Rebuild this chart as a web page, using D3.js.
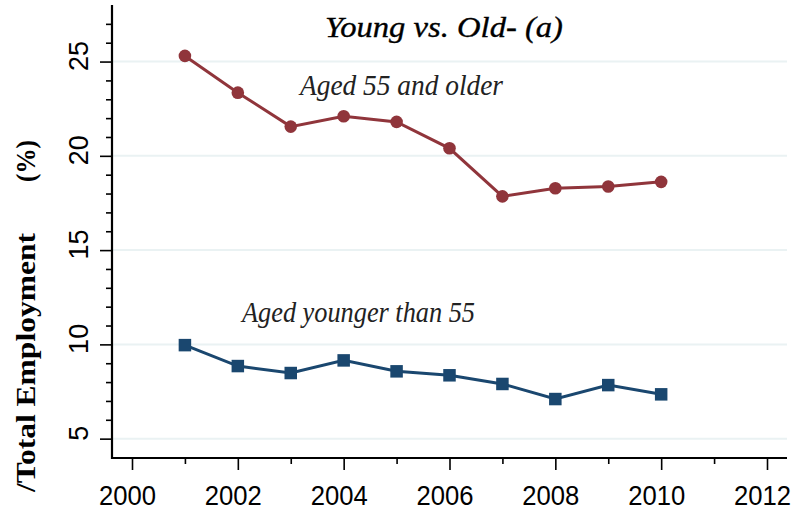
<!DOCTYPE html>
<html>
<head>
<meta charset="utf-8">
<script src="https://cdn.jsdelivr.net/npm/d3@7"></script>
<style>
  html, body { margin: 0; padding: 0; background: #ffffff; }
  svg { display: block; }
</style>
</head>
<body>
<svg id="chart" width="796" height="512"></svg>
<script>
// Share of employment by age group, 2001-2010 (%)
const years = [2001, 2002, 2003, 2004, 2005, 2006, 2007, 2008, 2009, 2010];
const agedOlder = [25.3, 23.35, 21.55, 22.1, 21.8, 20.4, 17.85, 18.28, 18.37, 18.62];
const agedYounger = [9.96, 8.85, 8.48, 9.15, 8.57, 8.36, 7.9, 7.1, 7.84, 7.35];

const xMajorTicks = [2000, 2002, 2004, 2006, 2008, 2010, 2012];
const xMinorTicks = [2001, 2003, 2005, 2007, 2009, 2011];
const yMajorTicks = [5, 10, 15, 20, 25];
const yMinorTicks = [6, 7, 8, 9, 11, 12, 13, 14, 16, 17, 18, 19, 21, 22, 23, 24, 26, 27];

const titleText = "Young vs. Old- (a)";
const yTitleMain = "/Total Employment";
const yTitleUnit = "(%)";
const labelOlder = "Aged 55 and older";
const labelYounger = "Aged younger than 55";

const colOlder = "#90353B";
const colYounger = "#1A476F";
const gridCol = "#EAF2F3";

const svg = d3.select("#chart");

const plotLeft = 112, plotRight = 787, plotTop = 5, plotBottom = 458;

const x = d3.scaleLinear().domain([2000, 2012]).range([132, 767]);
const y = d3.scaleLinear().domain([4, 28]).range([457.5, 5]);

// gridlines
svg.append("g").selectAll("line").data(yMajorTicks).join("line")
  .attr("x1", plotLeft).attr("x2", plotRight)
  .attr("y1", d => y(d)).attr("y2", d => y(d))
  .attr("stroke", gridCol).attr("stroke-width", 2);

// y axis: major ticks with labels, minor ticks without
const yAxisG = svg.append("g").attr("transform", `translate(${plotLeft},0)`);
yAxisG.call(d3.axisLeft(y).tickValues(yMajorTicks).tickSize(12).tickSizeOuter(0).tickFormat(d3.format("d")));
yAxisG.select(".domain").remove();
yAxisG.selectAll(".tick line").attr("stroke", "#000").attr("stroke-width", 1.6);
yAxisG.selectAll(".tick text")
  .attr("x", null).attr("dy", null)
  .attr("transform", "translate(-24,-6) rotate(-90)")
  .attr("text-anchor", "middle")
  .attr("font-family", "Liberation Sans, Arial, sans-serif")
  .attr("font-size", 27)
  .attr("fill", "#000");

const yMinorG = svg.append("g").attr("transform", `translate(${plotLeft},0)`);
yMinorG.call(d3.axisLeft(y).tickValues(yMinorTicks).tickSize(6).tickFormat(""));
yMinorG.select(".domain").remove();
yMinorG.selectAll(".tick line").attr("stroke", "#000").attr("stroke-width", 1.6);

// x axis
const xAxisG = svg.append("g").attr("transform", `translate(0,${plotBottom})`);
xAxisG.call(d3.axisBottom(x).tickValues(xMajorTicks).tickSize(12).tickFormat(d3.format("d")));
xAxisG.select(".domain").remove();
xAxisG.selectAll(".tick line").attr("stroke", "#000").attr("stroke-width", 1.6);
xAxisG.selectAll(".tick text")
  .attr("x", -5).attr("y", 47).attr("dy", null)
  .attr("font-family", "Liberation Sans, Arial, sans-serif")
  .attr("font-size", 27)
  .attr("textLength", 57).attr("lengthAdjust", "spacingAndGlyphs")
  .attr("fill", "#000");

const xMinorG = svg.append("g").attr("transform", `translate(0,${plotBottom})`);
xMinorG.call(d3.axisBottom(x).tickValues(xMinorTicks).tickSize(6).tickFormat(""));
xMinorG.select(".domain").remove();
xMinorG.selectAll(".tick line").attr("stroke", "#000").attr("stroke-width", 1.6);

// axis lines
svg.append("line").attr("x1", plotLeft).attr("x2", plotLeft)
  .attr("y1", plotTop).attr("y2", plotBottom + 1)
  .attr("stroke", "#000").attr("stroke-width", 2.2);
svg.append("line").attr("x1", plotLeft - 1).attr("x2", plotRight)
  .attr("y1", plotBottom).attr("y2", plotBottom)
  .attr("stroke", "#000").attr("stroke-width", 2.2);

// series lines
const line = d3.line().x(d => x(d[0])).y(d => y(d[1]));
const olderPts = years.map((yr, i) => [yr, agedOlder[i]]);
const youngerPts = years.map((yr, i) => [yr, agedYounger[i]]);

svg.append("path").datum(olderPts).attr("d", line)
  .attr("fill", "none").attr("stroke", colOlder).attr("stroke-width", 3);
svg.append("path").datum(youngerPts).attr("d", line)
  .attr("fill", "none").attr("stroke", colYounger).attr("stroke-width", 3);

// markers
svg.append("g").selectAll("circle").data(olderPts).join("circle")
  .attr("cx", d => x(d[0])).attr("cy", d => y(d[1])).attr("r", 6.3)
  .attr("fill", colOlder);

const sq = 12.5;
svg.append("g").selectAll("rect").data(youngerPts).join("rect")
  .attr("x", d => x(d[0]) - sq / 2).attr("y", d => y(d[1]) - sq / 2)
  .attr("width", sq).attr("height", sq)
  .attr("fill", colYounger);

// title
svg.append("text")
  .attr("x", 325).attr("y", 37)
  .attr("font-family", "Liberation Serif, Times New Roman, serif")
  .attr("font-style", "italic")
  .attr("font-size", 30)
  .attr("fill", "#000")
  .attr("stroke", "#000").attr("stroke-width", 0.35)
  .attr("textLength", 238).attr("lengthAdjust", "spacingAndGlyphs")
  .text(titleText);

// series labels
svg.append("text")
  .attr("x", 300).attr("y", 95)
  .attr("font-family", "Liberation Serif, Times New Roman, serif")
  .attr("font-style", "italic")
  .attr("font-size", 29)
  .attr("fill", "#222")
  .attr("textLength", 203).attr("lengthAdjust", "spacingAndGlyphs")
  .text(labelOlder);

svg.append("text")
  .attr("x", 242).attr("y", 322)
  .attr("font-family", "Liberation Serif, Times New Roman, serif")
  .attr("font-style", "italic")
  .attr("font-size", 29)
  .attr("fill", "#222")
  .attr("textLength", 233).attr("lengthAdjust", "spacingAndGlyphs")
  .text(labelYounger);

// y axis title
svg.append("text")
  .attr("transform", "translate(35,492) rotate(-90)")
  .attr("font-family", "Liberation Serif, Times New Roman, serif")
  .attr("font-weight", "bold")
  .attr("font-size", 28)
  .attr("fill", "#000")
  .attr("textLength", 259).attr("lengthAdjust", "spacingAndGlyphs")
  .text(yTitleMain);

svg.append("text")
  .attr("transform", "translate(35,182) rotate(-90)")
  .attr("font-family", "Liberation Serif, Times New Roman, serif")
  .attr("font-weight", "bold")
  .attr("font-size", 28)
  .attr("fill", "#000")
  .attr("textLength", 42).attr("lengthAdjust", "spacingAndGlyphs")
  .text(yTitleUnit);
</script>
</body>
</html>
